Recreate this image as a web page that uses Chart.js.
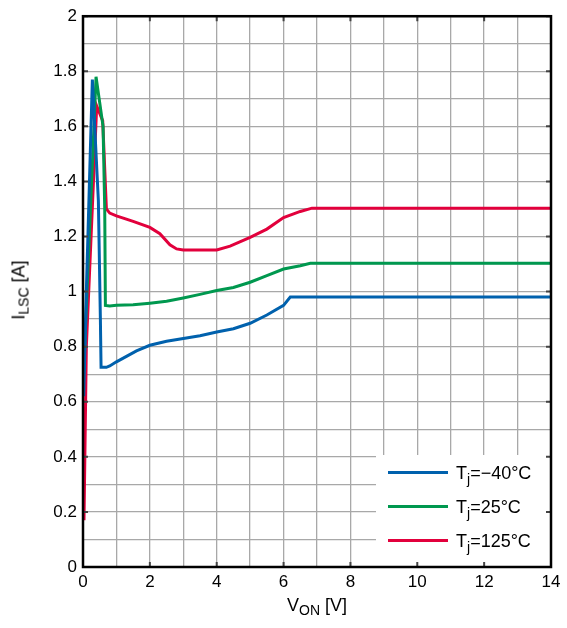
<!DOCTYPE html>
<html>
<head>
<meta charset="utf-8">
<script src="https://cdn.jsdelivr.net/npm/chart.js@4"></script>
<style>
  body { margin: 0; background: #fff; font-family: "Liberation Sans", Arial, sans-serif; }
  #wrap { position: relative; width: 567px; height: 628px; }
  .title { position: absolute; font-size: 18px; color: #000; white-space: nowrap; }
  .title sub { font-size: 14px; vertical-align: -4px; }
  #xtitle { left: 0; width: 634px; top: 595px; text-align: center; }
  #ytitle { left: 20px; top: 290px; transform: translate(-50%, -50%) rotate(-90deg); }
  .leg { position: absolute; left: 388px; font-size: 18px; color: #000; white-space: nowrap; }
  .leg i { display: inline-block; width: 60px; height: 3px; vertical-align: 5px; margin-right: 8px; }
  .leg sub { font-size: 14px; vertical-align: -5px; }
</style>
</head>
<body>
<div id="wrap">
  <canvas id="chart"></canvas>
  <div class="title" id="xtitle">V<sub>ON</sub> [V]</div>
  <div class="title" id="ytitle">I<sub>LSC</sub> [A]</div>
  <div class="leg" style="top:463px"><i style="background:#0061ad"></i>T<sub>j</sub>=−40°C</div>
  <div class="leg" style="top:497px"><i style="background:#00984f"></i>T<sub>j</sub>=25°C</div>
  <div class="leg" style="top:531px"><i style="background:#e2003c"></i>T<sub>j</sub>=125°C</div>
</div>
<script>
// V_ON values (V) and short-circuit current (A)
const blueV = [0.02, 0.1, 0.28, 0.46, 0.52, 0.54, 0.7, 0.8, 1.0, 1.3, 1.6, 2.0, 2.5, 3.0, 3.5, 4.0, 4.5, 5.0, 5.5, 6.0, 6.2, 14];
const blueI = [0.62, 1.0, 1.77, 1.33, 0.9, 0.725, 0.725, 0.73, 0.745, 0.765, 0.785, 0.805, 0.82, 0.83, 0.84, 0.853, 0.865, 0.885, 0.915, 0.95, 0.98, 0.98];

const greenV = [0.02, 0.12, 0.39, 0.6, 0.65, 0.67, 0.8, 1.0, 1.5, 2.0, 2.5, 3.0, 3.5, 4.0, 4.5, 5.0, 5.5, 6.0, 6.5, 6.8, 14];
const greenI = [0.7, 1.0, 1.78, 1.6, 1.3, 0.95, 0.948, 0.95, 0.952, 0.958, 0.965, 0.977, 0.99, 1.004, 1.015, 1.034, 1.058, 1.082, 1.094, 1.103, 1.103];

const redV = [0.03, 0.1, 0.41, 0.59, 0.7, 0.8, 1.0, 1.5, 2.0, 2.3, 2.6, 2.8, 3.0, 3.5, 4.0, 4.4, 5.0, 5.5, 6.0, 6.5, 6.85, 14];
const redI = [0.17, 0.8, 1.674, 1.62, 1.30, 1.285, 1.275, 1.255, 1.233, 1.21, 1.17, 1.155, 1.151, 1.151, 1.151, 1.165, 1.197, 1.227, 1.269, 1.291, 1.303, 1.303];

const seriesLabels = ['Tj=-40°C', 'Tj=25°C', 'Tj=125°C'];
const xTickLabels = [0, 2, 4, 6, 8, 10, 12, 14];
const yTickLabels = [0, 0.2, 0.4, 0.6, 0.8, 1, 1.2, 1.4, 1.6, 1.8, 2];

const pts = (xs, ys) => xs.map((x, i) => ({ x, y: ys[i] }));

// white patch behind the legend, then the border with inward ticks
const frame = {
  id: 'frame',
  beforeDatasetsDraw(chart) {
    const { ctx, chartArea: a } = chart;
    ctx.save();
    ctx.fillStyle = '#fff';
    ctx.fillRect(376, 455, a.right - 376, a.bottom - 455);
    ctx.restore();
  },
  afterDraw(chart) {
    const { ctx, chartArea: a, scales } = chart;
    ctx.save();
    ctx.strokeStyle = '#444';
    ctx.lineWidth = 2;
    const len = 5;
    xTickLabels.forEach(v => {
      const px = scales.x.getPixelForValue(v);
      ctx.beginPath();
      ctx.moveTo(px, a.bottom); ctx.lineTo(px, a.bottom - len);
      ctx.moveTo(px, a.top); ctx.lineTo(px, a.top + len);
      ctx.stroke();
    });
    yTickLabels.forEach(v => {
      const py = scales.y.getPixelForValue(v);
      ctx.beginPath();
      ctx.moveTo(a.left, py); ctx.lineTo(a.left + len, py);
      ctx.moveTo(a.right, py); ctx.lineTo(a.right - len, py);
      ctx.stroke();
    });
    ctx.strokeStyle = '#000';
    ctx.lineWidth = 2.5;
    ctx.strokeRect(a.left, a.top, a.right - a.left, a.bottom - a.top);
    ctx.restore();
  }
};

const line = (label, data, color) => ({
  label, data, borderColor: color, borderWidth: 3,
  pointRadius: 0, tension: 0, fill: false
});

new Chart(document.getElementById('chart'), {
  type: 'line',
  data: {
    datasets: [
      line(seriesLabels[0], pts(blueV, blueI), '#0061ad'),
      line(seriesLabels[1], pts(greenV, greenI), '#00984f'),
      line(seriesLabels[2], pts(redV, redI), '#e2003c')
    ]
  },
  plugins: [frame],
  options: {
    responsive: true,
    maintainAspectRatio: false,
    animation: false,
    layout: { padding: { top: 15, right: 16, left: 0, bottom: 0 } },
    plugins: { legend: { display: false }, tooltip: { enabled: false } },
    scales: {
      x: {
        type: 'linear', min: 0, max: 14,
        afterFit: s => { s.height = 61; },
        border: { display: false },
        grid: { color: '#a8a8a8', lineWidth: 1.3, drawTicks: false },
        ticks: {
          stepSize: 1, padding: 5, color: '#000', maxRotation: 0, autoSkip: false,
          font: { family: 'Liberation Sans', size: 17 },
          callback: v => xTickLabels.includes(v) ? String(v) : ''
        }
      },
      y: {
        type: 'linear', min: 0, max: 2,
        afterFit: s => { s.width = 83; },
        border: { display: false },
        grid: { color: '#a8a8a8', lineWidth: 1.3, drawTicks: false },
        ticks: {
          stepSize: 0.1, padding: 6, color: '#000', autoSkip: false,
          font: { family: 'Liberation Sans', size: 17 },
          callback: v => {
            const r = Math.round(v * 10) / 10;
            return yTickLabels.includes(r) ? String(r) : '';
          }
        }
      }
    }
  }
});
</script>
</body>
</html>
